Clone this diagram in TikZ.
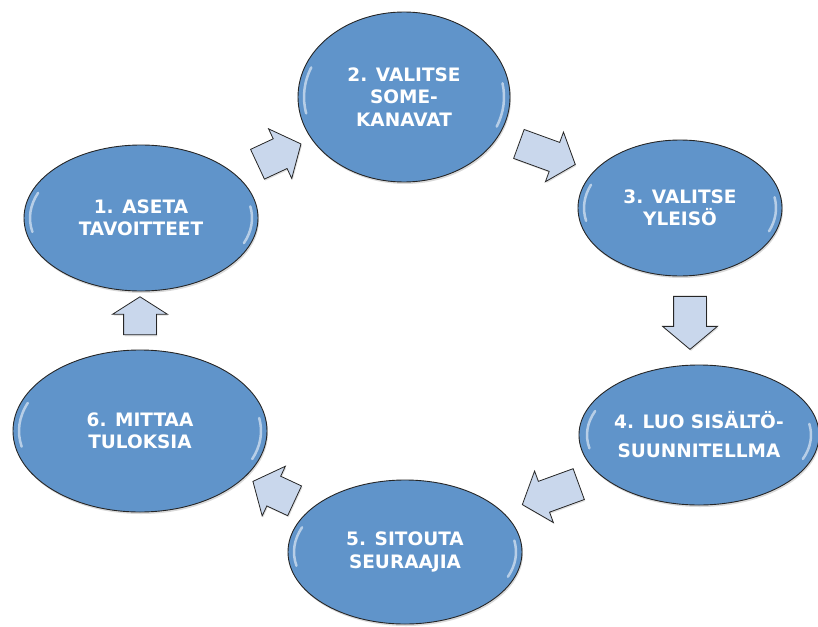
\documentclass[tikz,border=0pt]{standalone}
\usepackage{fontspec}
\setmainfont{DejaVu Sans}
\usetikzlibrary{shapes.geometric,shapes.arrows,shadows}
\definecolor{ellfill}{HTML}{6094CA}
\definecolor{arrfill}{HTML}{C9D7EC}
\definecolor{rim}{HTML}{262626}
\tikzset{
  stage/.style={ellipse, fill=ellfill, draw=rim, line width=0.9pt, text=white,
    font=\bfseries\fontsize{18.5}{22.5}\selectfont, align=center, inner sep=0pt,
    drop shadow={opacity=0.3, shadow xshift=1pt, shadow yshift=-2pt}},
  flow/.style={single arrow, fill=arrfill, draw=rim, line width=0.8pt,
    single arrow head extend=11pt, single arrow tip angle=100,
    inner xsep=0pt, inner ysep=16pt,
    drop shadow={opacity=0.25, shadow xshift=1pt, shadow yshift=-1.5pt}},
  gloss/.style={white, opacity=0.55, line width=2.5pt, line cap=round},
}
\begin{document}
\begin{tikzpicture}[x=1pt, y=-1pt]
\useasboundingbox (0,0) rectangle (818,626);
% stages
\node[stage, minimum width=234pt, minimum height=146pt] (e1) at (141,218) {1. ASETA\\TAVOITTEET};
\node[stage, minimum width=212pt, minimum height=170pt] (e2) at (404,97) {2. VALITSE\\SOME-\\KANAVAT};
\node[stage, minimum width=204pt, minimum height=136pt] (e3) at (680,208) {3. VALITSE\\YLEISÖ};
\node[stage, minimum width=236pt, minimum height=140pt, font=\bfseries\fontsize{18.5}{29}\selectfont] (e4) at (699,435) {4. LUO SISÄLTÖ-\\SUUNNITELLMA};
\node[stage, minimum width=234pt, minimum height=144pt] (e5) at (405,552) {5. SITOUTA\\SEURAAJIA};
\node[stage, minimum width=254pt, minimum height=162pt] (e6) at (140,431) {6. MITTAA\\TULOKSIA};
% gloss highlights
\foreach \n/\rx/\ry in {e1/117/73, e2/106/85, e3/102/68, e4/118/70, e5/117/72, e6/127/81}{
  \pgfmathsetmacro\ax{\rx-6}
  \pgfmathsetmacro\ay{\ry-6}
  \draw[gloss] ([shift={(158:\ax pt and \ay pt)}]\n.center) arc[start angle=158, end angle=192, x radius=\ax pt, y radius=\ay pt];
  \draw[gloss] ([shift={(-22:\ax pt and \ay pt)}]\n.center) arc[start angle=-22, end angle=10, x radius=\ax pt, y radius=\ay pt];
}
% block arrows
\node[flow, rotate=25,  minimum height=48pt] (a12) at (273,157) {};
\node[flow, rotate=-20, minimum height=60pt, inner ysep=15pt] (a23) at (541,152) {};
\node[flow, rotate=-90, minimum height=53pt] (a34) at (690,316) {};
\node[flow, rotate=200, minimum height=60pt] (a45) at (557,492) {};
\node[flow, rotate=155, minimum height=46pt] (a56) at (280,494) {};
\node[flow, rotate=90,  minimum height=38pt, single arrow tip angle=115] (a61) at (140,321) {};
\end{tikzpicture}
\end{document}
